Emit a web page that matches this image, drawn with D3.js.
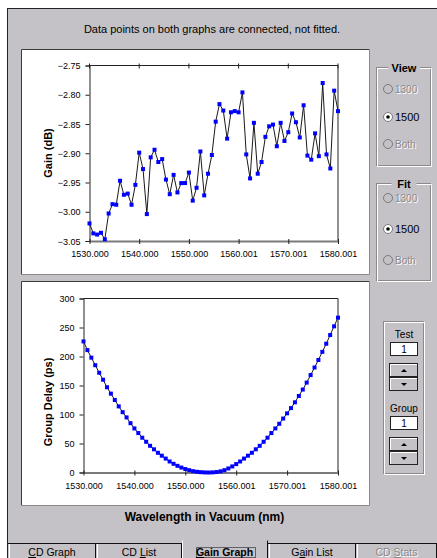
<!DOCTYPE html>
<html><head><meta charset="utf-8">
<script src="https://cdn.jsdelivr.net/npm/d3@7"></script>
<style>body{margin:0;background:#fff}svg{display:block}text{font-family:"Liberation Sans",Arial,sans-serif}</style>
</head><body><svg id="c" width="437" height="558"></svg>
<script>
const wavelengths = [1530.00,1530.77,1531.54,1532.31,1533.08,1533.85,1534.62,1535.38,1536.15,1536.92,
 1537.69,1538.46,1539.23,1540.00,1540.77,1541.54,1542.31,1543.08,1543.85,1544.62,
 1545.38,1546.15,1546.92,1547.69,1548.46,1549.23,1550.00,1550.77,1551.54,1552.31,
 1553.08,1553.85,1554.62,1555.39,1556.15,1556.92,1557.69,1558.46,1559.23,1560.00,
 1560.77,1561.54,1562.31,1563.08,1563.85,1564.62,1565.39,1566.15,1566.92,1567.69,
 1568.46,1569.23,1570.00,1570.77,1571.54,1572.31,1573.08,1573.85,1574.62,1575.39,
 1576.15,1576.92,1577.69,1578.46,1579.23,1580.00];
const gainDb = [-3.020,-3.037,-3.039,-3.036,-3.047,-3.003,-2.987,-2.988,-2.947,-2.971,
 -2.969,-2.988,-2.954,-2.899,-2.927,-3.004,-2.907,-2.894,-2.915,-2.910,
 -2.945,-2.970,-2.937,-2.967,-2.951,-2.951,-2.933,-2.981,-2.959,-2.897,
 -2.972,-2.935,-2.903,-2.846,-2.816,-2.827,-2.875,-2.830,-2.828,-2.830,
 -2.796,-2.902,-2.943,-2.848,-2.935,-2.915,-2.872,-2.854,-2.851,-2.888,
 -2.848,-2.879,-2.864,-2.832,-2.847,-2.873,-2.818,-2.904,-2.911,-2.866,
 -2.905,-2.780,-2.902,-2.926,-2.793,-2.828];
const groupDelayPs = [226,211,198,185,172,160,147,136,125,114,
 104,95,85,76,68,60,53,46,40,34,
 29,24,19,15,11.5,8.5,6,4,2.3,1.2,
 0.5,0.1,0,0.2,0.8,2,4,7,10.5,14.5,
 19,24,29,34,40,46,53,60,68,76,
 84,93,102,111,121,132,143,155,168,181,
 194,208,222,237,252,267];
const xTickValues = [1530, 1540, 1550, 1560.001, 1570.001, 1580.001];
const xTickLabels = ["1530.000","1540.000","1550.000","1560.001","1570.001","1580.001"];
const gainTicks = [-3.05,-3.00,-2.95,-2.90,-2.85,-2.80,-2.75];
const delayTicks = [0,50,100,150,200,250,300];

const svg = d3.select("#c");
const BG = "#c4c2c6";

// window
svg.append("rect").attr("x",8).attr("y",8).attr("width",429).attr("height",550).attr("fill",BG);
svg.append("line").attr("x1",7.5).attr("x2",437).attr("y1",8.5).attr("y2",8.5).attr("stroke","#222");
svg.append("line").attr("x1",7.5).attr("x2",7.5).attr("y1",8).attr("y2",558).attr("stroke","#222");

svg.append("text").attr("x",212).attr("y",33).attr("text-anchor","middle")
  .attr("font-size",11).attr("fill","#000").text("Data points on both graphs are connected, not fitted.");

function panel(x,y,w,h){
  svg.append("rect").attr("x",x+0.5).attr("y",y+0.5).attr("width",w).attr("height",h).attr("fill","#fff").attr("stroke","none");
  svg.append("path").attr("d",`M${x+0.5},${y+h+0.5}V${y+0.5}H${x+w+0.5}`).attr("fill","none").attr("stroke","#3a3a3a");
  svg.append("path").attr("d",`M${x+w+0.5},${y+0.5}V${y+h+0.5}H${x+0.5}`).attr("fill","none").attr("stroke","#8a8a8a");
}
panel(21,49,348,225);
panel(21,281,348,224);

function drawPlot(opts){
  const {x,y,xs,ys,yTicks,yFmt,yTitle,yTitleY,topTicks,xTitle} = opts;
  const g = svg.append("g");
  const [x0,x1] = x.range(), [y0,y1] = y.range();
  // frame top & right
  g.append("path").attr("d",`M${x0},${y1}H${x1}V${y0}`).attr("fill","none").attr("stroke","#222").attr("stroke-width",1);
  // bottom axis
  const xa = g.append("g").attr("transform",`translate(0,${y0})`)
    .call(d3.axisBottom(x).tickValues(xTickValues).tickFormat((d,i)=>xTickLabels[i]).tickSizeOuter(0));
  xa.select(".domain").attr("stroke","#7a7a7a").attr("stroke-width",2);
  xa.selectAll(".tick line").attr("y1",-2).attr("y2",3).attr("stroke","#222");
  xa.selectAll(".tick text").attr("y",16).attr("dy",null).attr("font-size",9).attr("font-family","Liberation Sans, Arial, sans-serif").attr("fill","#000");
  if(topTicks){
    xTickValues.forEach(v=>{
      g.append("line").attr("x1",x(v)).attr("x2",x(v)).attr("y1",y1-2).attr("y2",y1+3).attr("stroke","#222");
    });
  }
  const ya = g.append("g").attr("transform",`translate(${x0},0)`)
    .call(d3.axisLeft(y).tickValues(yTicks).tickFormat(yFmt).tickSizeOuter(0).tickSize(4).tickPadding(5));
  ya.select(".domain").attr("stroke","#222");
  ya.selectAll(".tick line").attr("stroke","#222");
  ya.selectAll(".tick text").attr("font-size",9).attr("font-family","Liberation Sans, Arial, sans-serif").attr("fill","#000").attr("dy","0.34em");
  // title
  svg.append("text").attr("transform",`translate(52,${yTitleY}) rotate(-90)`).attr("text-anchor","middle")
    .attr("font-size",11).attr("font-weight","bold").text(yTitle);
  // line
  const line = d3.line().x((d,i)=>x(wavelengths[i])).y(d=>y(d));
  g.append("path").datum(ys).attr("d",line).attr("fill","none").attr("stroke","#1a1a1a").attr("stroke-width",1);
  g.selectAll("rect.m").data(ys).join("rect").attr("class","m")
    .attr("x",(d,i)=>x(wavelengths[i])-2).attr("y",d=>y(d)-2).attr("width",4).attr("height",4).attr("fill","#0000ff");
}

const xTop = d3.scaleLinear().domain([1530,1580.001]).range([89.5,338]);
const yTop = d3.scaleLinear().domain([-3.05,-2.75]).range([241,65.5]);
drawPlot({x:xTop,y:yTop,ys:gainDb,yTicks:gainTicks,yFmt:d3.format(".2f"),yTitle:"Gain (dB)",yTitleY:153,topTicks:true});

const xBot = d3.scaleLinear().domain([1530,1580.001]).range([83.5,338]);
const yBot = d3.scaleLinear().domain([0,300]).range([472.5,298.5]);
drawPlot({x:xBot,y:yBot,ys:groupDelayPs,yTicks:delayTicks,yFmt:d3.format("d"),yTitle:"Group Delay (ps)",yTitleY:402,topTicks:false});

svg.append("text").attr("x",204.5).attr("y",521).attr("text-anchor","middle")
  .attr("font-size",12).attr("font-weight","bold").text("Wavelength in Vacuum (nm)");

// right-side controls
function groupBox(x,y,w,h){
  svg.append("rect").attr("x",x+0.5).attr("y",y+0.5).attr("width",w).attr("height",h).attr("fill","none").attr("stroke","#8a8a8a");
  svg.append("rect").attr("x",x+1.5).attr("y",y+1.5).attr("width",w).attr("height",h).attr("fill","none").attr("stroke","#fff");
}
function disabledText(x,y,t,anchor){
  svg.append("text").attr("x",x+1).attr("y",y+1).attr("font-size",10).attr("fill","#fff").attr("text-anchor",anchor||"start").text(t);
  svg.append("text").attr("x",x).attr("y",y).attr("font-size",10).attr("fill","#8a8a8a").attr("text-anchor",anchor||"start").text(t);
}
function radio(cx,cy,label,enabled,checked){
  svg.append("circle").attr("cx",cx).attr("cy",cy).attr("r",4.5).attr("fill",enabled?"#fff":BG).attr("stroke","#7a7a7a");
  if(checked) svg.append("circle").attr("cx",cx).attr("cy",cy).attr("r",1.8).attr("fill","#000");
  if(enabled) svg.append("text").attr("x",cx+7).attr("y",cy+4).attr("font-size",11).attr("fill","#000").text(label);
  else disabledText(cx+7,cy+4,label);
}
function boxTitle(cx,y,t){
  const w = t.length*7+4;
  svg.append("rect").attr("x",cx-w/2).attr("y",y-9).attr("width",w).attr("height",11).attr("fill",BG);
  svg.append("text").attr("x",cx).attr("y",y).attr("text-anchor","middle").attr("font-size",11).attr("font-weight","bold").text(t);
}
groupBox(376,67,54,98);
boxTitle(404,72,"View");
radio(388,89,"1300",false,false);
radio(388,117,"1500",true,true);
radio(388,144,"Both",false,false);

groupBox(376,183,54,97);
boxTitle(404,188,"Fit");
radio(388,198,"1300",false,false);
radio(388,229,"1500",true,true);
radio(388,260,"Both",false,false);

groupBox(383,321,40,152);
function spin(label,ly,by){
  svg.append("text").attr("x",404).attr("y",ly).attr("text-anchor","middle").attr("font-size",10).text(label);
  svg.append("rect").attr("x",390.5).attr("y",by+0.5).attr("width",27).attr("height",13).attr("fill","#fff").attr("stroke","#222");
  svg.append("text").attr("x",404).attr("y",by+11).attr("text-anchor","middle").attr("font-size",10).text("1");
  [[by+21,true],[by+35,false]].forEach(([yy,up])=>{
    svg.append("rect").attr("x",389.5).attr("y",yy+0.5).attr("width",28).attr("height",13).attr("fill",BG).attr("stroke","#222");
    svg.append("path").attr("d",`M390.5,${yy+13}V${yy+1.5}H417`).attr("fill","none").attr("stroke","#fff");
    const c = yy+7;
    svg.append("path").attr("d", up? `M401,${c+2}L404,${c-1}L407,${c+2}Z` : `M401,${c-1}L404,${c+2}L407,${c-1}Z`).attr("fill","#000");
  });
}
spin("Test",338,342);
spin("Group",412,416);

// tabs
svg.append("line").attr("x1",8).attr("x2",437).attr("y1",543.5).attr("y2",543.5).attr("stroke","#111");
const tabs = [
  {x0:8,x1:96,pre:"",u:"C",post:"D Graph",en:true,sel:false},
  {x0:96,x1:182,pre:"CD ",u:"L",post:"ist",en:true,sel:false},
  {x0:182,x1:268,pre:"",u:"G",post:"ain Graph",en:true,sel:true},
  {x0:268,x1:356,pre:"G",u:"a",post:"in List",en:true,sel:false},
  {x0:356,x1:437,pre:"CD ",u:"S",post:"tats",en:false,sel:false}
];
tabs.forEach(t=>{
  if(t.sel){
    svg.append("rect").attr("x",t.x0).attr("y",540).attr("width",t.x1-t.x0).attr("height",18).attr("fill",BG);
    svg.append("path").attr("d",`M${t.x0+0.5},558V540.5`).attr("stroke","#fff").attr("fill","none");
    svg.append("path").attr("d",`M${t.x1-0.5},540.5V558`).attr("stroke","#111").attr("fill","none");
    svg.append("rect").attr("x",196.5).attr("y",547.5).attr("width",59).attr("height",10).attr("fill","none")
      .attr("stroke","#000").attr("stroke-dasharray","1,1");
  } else {
    svg.append("line").attr("x1",t.x1-0.5).attr("x2",t.x1-0.5).attr("y1",543).attr("y2",558).attr("stroke","#111");
    svg.append("line").attr("x1",t.x0+1.5).attr("x2",t.x0+1.5).attr("y1",544).attr("y2",558).attr("stroke","#fff");
  }
  const cx=(t.x0+t.x1)/2 + (t.sel?-0.5:0);
  const mk=(dx,dy,fill)=>{
    const tx = svg.append("text").attr("x",cx+dx).attr("y",556+dy).attr("text-anchor","middle").attr("font-size",10.5)
      .attr("font-weight",t.sel?"bold":"normal").attr("fill",fill);
    tx.append("tspan").text(t.pre);
    tx.append("tspan").attr("text-decoration","underline").text(t.u);
    tx.append("tspan").text(t.post);
  };
  if(t.en) mk(0,0,"#000"); else { mk(1,1,"#fff"); mk(0,0,"#8a8a8a"); }
});
</script></body></html>
